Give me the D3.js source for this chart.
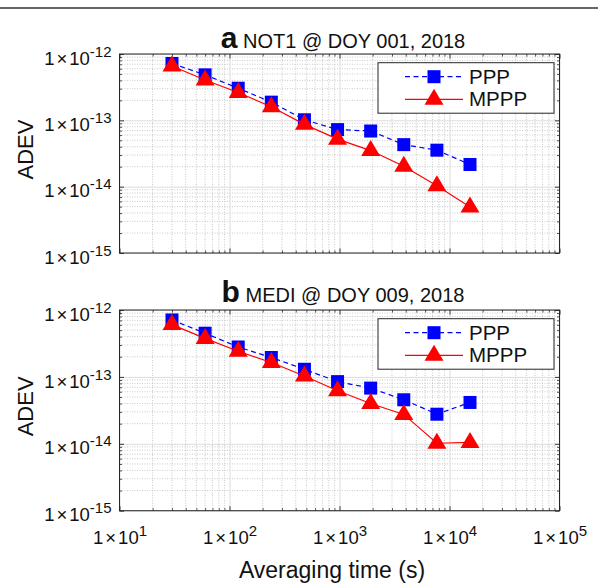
<!DOCTYPE html>
<html>
<head>
<meta charset="utf-8">
<script src="https://cdn.jsdelivr.net/npm/d3@7/dist/d3.min.js"></script>
<style>
  html, body { margin: 0; padding: 0; background: #fff; }
  svg { display: block; font-family: "Liberation Sans", Arial, Helvetica, sans-serif; }
</style>
</head>
<body>
<svg id="chart" width="598" height="584"></svg>
<script>
// Averaging times (s)
const tau = [30, 60, 120, 240, 480, 960, 1920, 3840, 7680, 15360];

// Panel a: NOT1 @ DOY 001, 2018
const pppA  = [7.2e-13, 4.85e-13, 3.05e-13, 1.88e-13, 1.02e-13, 7.25e-14, 6.9e-14, 4.3e-14, 3.55e-14, 2.16e-14];
const mpppA = [6.6e-13, 4.05e-13, 2.63e-13, 1.6e-13, 8.7e-14, 5.2e-14, 3.5e-14, 2.03e-14, 1.03e-14, 4.95e-15];

// Panel b: MEDI @ DOY 009, 2018
const pppB  = [7.1e-13, 4.5e-13, 2.8e-13, 1.95e-13, 1.3e-13, 8.5e-14, 6.8e-14, 4.55e-14, 2.77e-14, 4.15e-14];
const mpppB = [6.05e-13, 3.76e-13, 2.42e-13, 1.64e-13, 1.03e-13, 6.2e-14, 4.0e-14, 2.75e-14, 1.02e-14, 1.05e-14];

// Tick exponents
const xExps = [1, 2, 3, 4, 5];
const yExps = [-12, -13, -14, -15];

const seriesNames = ["PPP", "MPPP"];
const panelLetters = ["a", "b"];
const panelTitles = ["NOT1 @ DOY 001, 2018", "MEDI @ DOY 009, 2018"];

const svg = d3.select("#chart");
const axisColor = "#262626";

// Rule across the top of the figure
svg.append("line").attr("x1", 0).attr("x2", 598).attr("y1", 8).attr("y2", 8)
  .attr("stroke", "#333").attr("stroke-width", 1.6);

const left = 119.5, right = 559.5;
const x = d3.scaleLog().domain([10, 1e5]).range([left, right]);

function minorsOf(exps) {
  const out = [];
  const lo = d3.min(exps), hi = d3.max(exps);
  for (let e = lo; e < hi; e++) for (let m = 2; m <= 9; m++) out.push(m * Math.pow(10, e));
  return out;
}
const xMinor = minorsOf(xExps);
const yMinor = minorsOf(yExps);

// "1×10^n" label built from tspans
function powLabel(sel, exp, anchor) {
  sel.text(null).attr("text-anchor", anchor);
  sel.append("tspan").text("1");
  sel.append("tspan").attr("dx", 2).text("\u00d7");
  sel.append("tspan").attr("dx", 2).text("10");
  sel.append("tspan").attr("font-size", 15).attr("dy", -8).text(String(exp));
}

function drawPanel(top, bottom, letter, title, ppp, mppp, withXLabels, titleBase) {
  const y = d3.scaleLog().domain([1e-15, 1e-12]).range([bottom, top]);
  const g = svg.append("g");
  const w = right - left, h = bottom - top;

  // minor grid (dotted)
  const gm = g.append("g");
  gm.selectAll(".vx").data(xMinor).join("line")
    .attr("x1", d => x(d)).attr("x2", d => x(d)).attr("y1", top).attr("y2", bottom)
    .attr("stroke", "#bdbdbd").attr("stroke-width", 0.8).attr("stroke-dasharray", "1,1.5");
  gm.selectAll(".hy").data(yMinor).join("line")
    .attr("y1", d => y(d)).attr("y2", d => y(d)).attr("x1", left).attr("x2", right)
    .attr("stroke", "#bdbdbd").attr("stroke-width", 0.8).attr("stroke-dasharray", "1,1.5");

  // major grid (solid, light)
  g.append("g").attr("transform", `translate(0,${bottom})`)
    .call(d3.axisBottom(x).tickValues(xExps.map(e => Math.pow(10, e))).tickSize(-h).tickFormat(""))
    .call(a => a.select(".domain").remove())
    .call(a => a.selectAll("line").attr("stroke", "#dcdcdc").attr("stroke-width", 1));
  g.append("g").attr("transform", `translate(${left},0)`)
    .call(d3.axisLeft(y).tickValues(yExps.map(e => Math.pow(10, e))).tickSize(-w).tickFormat(""))
    .call(a => a.select(".domain").remove())
    .call(a => a.selectAll("line").attr("stroke", "#dcdcdc").attr("stroke-width", 1));

  // inward ticks on all four sides
  const xMaj = xExps.map(e => Math.pow(10, e));
  const yMaj = yExps.map(e => Math.pow(10, e));
  const tickAxes = [
    [d3.axisBottom(x), `translate(0,${bottom})`, xMaj, xMinor],
    [d3.axisTop(x), `translate(0,${top})`, xMaj, xMinor],
    [d3.axisLeft(y), `translate(${left},0)`, yMaj, yMinor],
    [d3.axisRight(y), `translate(${right},0)`, yMaj, yMinor]
  ];
  tickAxes.forEach(([ax, tr, maj, min]) => {
    g.append("g").attr("transform", tr)
      .call(ax.tickValues(maj).tickSize(-4.5).tickFormat(""))
      .call(a => a.select(".domain").remove())
      .call(a => a.selectAll("line").attr("stroke", axisColor).attr("stroke-width", 0.9));
    g.append("g").attr("transform", tr)
      .call(ax.tickValues(min).tickSize(-2.5).tickFormat(""))
      .call(a => a.select(".domain").remove())
      .call(a => a.selectAll("line").attr("stroke", axisColor).attr("stroke-width", 0.8));
  });

  // box
  g.append("rect").attr("x", left).attr("y", top).attr("width", w).attr("height", h)
    .attr("fill", "none").attr("stroke", axisColor).attr("stroke-width", 1);

  // y tick labels
  const yl = g.append("g").attr("transform", `translate(${left},0)`)
    .call(d3.axisLeft(y).tickValues(yMaj).tickSize(0).tickPadding(8).tickFormat(""));
  yl.select(".domain").remove();
  yl.selectAll(".tick text").each(function (d) {
    powLabel(d3.select(this), Math.round(Math.log10(d)), "end");
  }).attr("font-size", 18.5).attr("fill", "#111").attr("dy", "0.55em")
    .attr("font-family", "Liberation Sans, Arial, sans-serif");

  // x tick labels
  if (withXLabels) {
    const xl = g.append("g").attr("transform", `translate(0,${bottom})`)
      .call(d3.axisBottom(x).tickValues(xMaj).tickSize(0).tickPadding(20).tickFormat(""));
    xl.select(".domain").remove();
    xl.selectAll(".tick text").each(function (d) {
      powLabel(d3.select(this), Math.round(Math.log10(d)), "middle");
    }).attr("font-size", 18.5).attr("fill", "#111").attr("dy", "0.72em")
      .attr("font-family", "Liberation Sans, Arial, sans-serif");
  }

  // y axis label
  g.append("text").attr("transform", `translate(33,${(top + bottom) / 2 - 4}) rotate(-90)`)
    .attr("text-anchor", "middle").attr("font-size", 22).attr("fill", "#111").text("ADEV");

  // title
  const t = g.append("text").attr("x", 343).attr("y", titleBase).attr("text-anchor", "middle").attr("fill", "#111");
  t.append("tspan").attr("font-weight", "bold").attr("font-size", 30).text(letter);
  t.append("tspan").attr("font-size", 20).text(" " + title);

  // series
  const pts = (vals) => tau.map((tv, i) => [tv, vals[i]]);
  const line = d3.line().x(d => x(d[0])).y(d => y(d[1]));
  g.append("path").datum(pts(ppp)).attr("d", line).attr("fill", "none")
    .attr("stroke", "#0000ff").attr("stroke-width", 1.2).attr("stroke-dasharray", "5,3.5");
  g.selectAll(".sq").data(pts(ppp)).join("rect")
    .attr("x", d => x(d[0]) - 6.5).attr("y", d => y(d[1]) - 6.5)
    .attr("width", 13).attr("height", 13).attr("fill", "#0000ff");
  g.append("path").datum(pts(mppp)).attr("d", line).attr("fill", "none")
    .attr("stroke", "#ff0000").attr("stroke-width", 1.2);
  const tri = "M0,-10.5L9.5,5.5L-9.5,5.5Z";
  g.selectAll(".tr").data(pts(mppp)).join("path")
    .attr("transform", d => `translate(${x(d[0])},${y(d[1])})`)
    .attr("d", tri).attr("fill", "#ff0000");

  // legend
  const lx = 378, ly = top + 8.7, lw = 176, lh = 50.5;
  const lg = g.append("g");
  lg.append("rect").attr("x", lx).attr("y", ly).attr("width", lw).attr("height", lh)
    .attr("fill", "#fff").attr("stroke", axisColor).attr("stroke-width", 1);
  const r1 = ly + 14, r2 = ly + 36.6;
  lg.append("line").attr("x1", 405).attr("x2", 463).attr("y1", r1).attr("y2", r1)
    .attr("stroke", "#0000ff").attr("stroke-width", 1.2).attr("stroke-dasharray", "5,3.5");
  lg.append("rect").attr("x", 434 - 6.5).attr("y", r1 - 6.5).attr("width", 13).attr("height", 13).attr("fill", "#0000ff");
  lg.append("line").attr("x1", 405).attr("x2", 463).attr("y1", r2).attr("y2", r2)
    .attr("stroke", "#ff0000").attr("stroke-width", 1.2);
  lg.append("path").attr("transform", `translate(434,${r2})`).attr("d", tri).attr("fill", "#ff0000");
  lg.append("text").attr("x", 469).attr("y", r1 + 7).attr("font-size", 20.5).attr("fill", "#111").text(seriesNames[0]);
  lg.append("text").attr("x", 469).attr("y", r2 + 7).attr("font-size", 20.5).attr("fill", "#111").text(seriesNames[1]);
}

drawPanel(54, 253, panelLetters[0], panelTitles[0], pppA, mpppA, false, 48);
drawPanel(310, 510.7, panelLetters[1], panelTitles[1], pppB, mpppB, true, 302);

// x axis label
svg.append("text").attr("x", 332).attr("y", 578).attr("text-anchor", "middle")
  .attr("font-size", 23).attr("fill", "#111").text("Averaging time (s)");
</script>
</body>
</html>
